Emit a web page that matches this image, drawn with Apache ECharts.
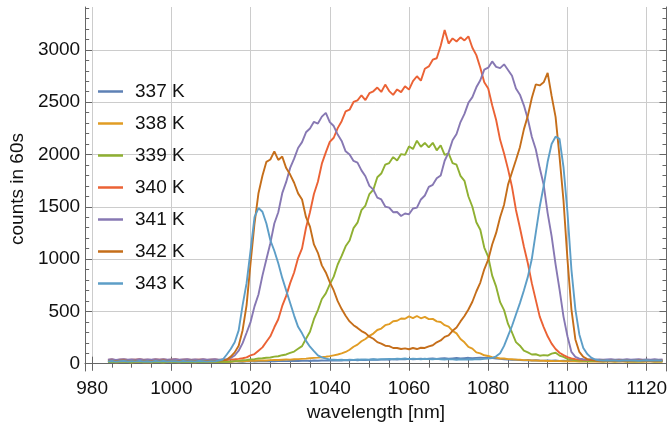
<!DOCTYPE html>
<html>
<head>
<meta charset="utf-8">
<script src="https://cdn.jsdelivr.net/npm/echarts@6/dist/echarts.min.js"></script>
<style>
  html, body { margin: 0; padding: 0; background: #fff; }
  #chart { width: 670px; height: 432px; }
</style>
</head>
<body>
<div id="chart"></div>
<script>
// wavelength grid [nm]
var wavelengths = [
  984, 985, 986, 987, 988, 989, 990, 991, 992, 993,
  994, 995, 996, 997, 998, 999, 1000, 1001, 1002, 1003,
  1004, 1005, 1006, 1007, 1008, 1009, 1010, 1011, 1012, 1013,
  1014, 1015, 1016, 1017, 1018, 1019, 1020, 1021, 1022, 1023,
  1024, 1025, 1026, 1027, 1028, 1029, 1030, 1031, 1032, 1033,
  1034, 1035, 1036, 1037, 1038, 1039, 1040, 1041, 1042, 1043,
  1044, 1045, 1046, 1047, 1048, 1049, 1050, 1051, 1052, 1053,
  1054, 1055, 1056, 1057, 1058, 1059, 1060, 1061, 1062, 1063,
  1064, 1065, 1066, 1067, 1068, 1069, 1070, 1071, 1072, 1073,
  1074, 1075, 1076, 1077, 1078, 1079, 1080, 1081, 1082, 1083,
  1084, 1085, 1086, 1087, 1088, 1089, 1090, 1091, 1092, 1093,
  1094, 1095, 1096, 1097, 1098, 1099, 1100, 1101, 1102, 1103,
  1104, 1105, 1106, 1107, 1108, 1109, 1110, 1111, 1112, 1113,
  1114, 1115, 1116, 1117, 1118, 1119, 1120, 1121, 1122, 1123,
  1124
];

// counts in 60s, one list per temperature
var s337 = [
  20, 18, 22, 19, 21, 17, 20, 22, 18, 21,
  19, 22, 20, 18, 21, 23, 19, 20, 22, 18,
  21, 19, 23, 20, 18, 22, 21, 19, 23, 20,
  22, 20, 24, 21, 19, 23, 25, 21, 22, 24,
  23, 26, 22, 25, 27, 24, 26, 28, 25, 27,
  29, 26, 30, 28, 31, 29, 32, 30, 33, 31,
  34, 32, 36, 33, 38, 35, 37, 40, 36, 39,
  41, 38, 43, 40, 44, 42, 46, 43, 45, 48,
  44, 47, 50, 46, 49, 52, 48, 51, 54, 50,
  53, 56, 52, 55, 58, 54, 57, 53, 50, 46,
  42, 39, 36, 38, 34, 32, 35, 31, 33, 30,
  29, 31, 28, 30, 27, 29, 26, 28, 25, 27,
  26, 24, 27, 25, 23, 26, 24, 25, 27, 23,
  25, 24, 26, 23, 25, 27, 24, 26, 23, 25,
  24
];
var s338 = [
  15, 17, 14, 16, 18, 15, 13, 16, 17, 14,
  16, 14, 17, 15, 13, 16, 18, 15, 14, 17,
  15, 16, 14, 17, 15, 18, 16, 17, 19, 18,
  20, 19, 22, 24, 23, 26, 28, 27, 30, 32,
  31, 34, 36, 35, 38, 40, 39, 42, 44, 46,
  48, 52, 55, 58, 62, 66, 72, 80, 88, 98,
  112, 133, 162, 182, 214, 236, 266, 288, 322, 336,
  368, 378, 406, 410, 432, 430, 452, 436, 456, 434,
  448, 426, 428, 404, 398, 368, 354, 314, 290, 236,
  204, 160, 144, 108, 98, 80, 74, 62, 58, 50,
  49, 44, 43, 39, 38, 34, 34, 30, 31, 28,
  28, 26, 27, 24, 25, 23, 24, 22, 23, 21,
  22, 21, 22, 20, 21, 19, 20, 21, 19, 20,
  20, 19, 21, 18, 20, 19, 21, 20, 18, 20,
  19
];
var s339 = [
  16, 18, 15, 17, 19, 16, 14, 17, 18, 15,
  17, 15, 18, 16, 14, 17, 19, 16, 15, 18,
  16, 17, 15, 18, 16, 19, 17, 18, 16, 19,
  18, 21, 24, 27, 33, 35, 41, 43, 49, 52,
  57, 59, 67, 71, 81, 88, 104, 116, 142, 168,
  238, 306, 425, 512, 618, 672, 758, 832, 948, 1030,
  1122, 1178, 1296, 1348, 1468, 1512, 1622, 1664, 1782, 1818,
  1902, 1918, 1975, 1942, 2004, 1996, 2078, 2052, 2132, 2074,
  2110, 2068, 2112, 2040, 2088, 1996, 2010, 1918, 1902, 1796,
  1748, 1598, 1500, 1352, 1280, 1110, 1020, 842, 736, 588,
  512, 380, 298, 206, 172, 124, 108, 88, 90, 76,
  82, 78, 96, 104, 78, 64, 46, 42, 33, 30,
  27, 25, 26, 24, 25, 23, 24, 26, 23, 24,
  24, 23, 25, 22, 24, 23, 25, 24, 22, 24,
  23
];
var s340 = [
  36, 40, 34, 38, 41, 35, 39, 37, 42, 36,
  38, 35, 40, 37, 41, 36, 39, 42, 35, 38,
  40, 36, 39, 37, 41, 35, 38, 40, 36, 39,
  38, 41, 42, 46, 52, 60, 80, 92, 124, 156,
  210, 262, 348, 425, 552, 648, 770, 872, 1010, 1102,
  1300, 1448, 1622, 1740, 1912, 2020, 2120, 2160, 2252, 2318,
  2412, 2428, 2502, 2518, 2566, 2520, 2586, 2604, 2640, 2598,
  2668, 2606, 2570, 2622, 2596, 2652, 2620, 2702, 2748, 2706,
  2820, 2842, 2906, 2920, 3040, 3190, 3060, 3110, 3080, 3120,
  3090, 3130, 3020, 2950, 2830, 2690, 2630, 2470, 2330, 2140,
  2010, 1860, 1690, 1470, 1300, 1120, 960, 770, 610, 450,
  350, 262, 192, 140, 104, 82, 62, 51, 44, 39,
  36, 34, 37, 33, 35, 32, 36, 34, 33, 35,
  33, 35, 32, 34, 36, 33, 35, 32, 34, 33,
  34
];
var s341 = [
  38, 42, 36, 40, 43, 37, 41, 39, 44, 38,
  40, 37, 42, 39, 43, 38, 41, 44, 37, 40,
  42, 38, 41, 39, 43, 37, 40, 42, 38, 41,
  44, 56, 78, 124, 196, 296, 398, 548, 662, 842,
  998, 1152, 1340, 1448, 1630, 1738, 1872, 1960, 2062, 2118,
  2212, 2248, 2312, 2296, 2362, 2398, 2310, 2272, 2190, 2130,
  2030, 2000, 1938, 1922, 1848, 1792, 1700, 1664, 1588, 1570,
  1502, 1492, 1448, 1450, 1412, 1436, 1428, 1484, 1492, 1570,
  1608, 1690, 1710, 1772, 1800, 1940, 2020, 2136, 2196, 2310,
  2388, 2494, 2548, 2642, 2710, 2812, 2830, 2890, 2838, 2826,
  2862, 2808, 2752, 2630, 2572, 2470, 2340, 2170, 2050, 1870,
  1710, 1440, 1220, 950, 710, 450, 262, 112, 66, 48,
  42, 39, 43, 38, 41, 37, 40, 42, 38, 41,
  39, 42, 37, 40, 43, 38, 41, 39, 42, 38,
  40
];
var s342 = [
  26, 29, 24, 28, 30, 25, 27, 29, 24, 28,
  27, 24, 29, 26, 30, 25, 28, 27, 24, 29,
  26, 28, 25, 29, 27, 24, 28, 26, 29, 32,
  38, 68, 108, 172, 320, 560, 960, 1340, 1630, 1796,
  1930, 1952, 2030, 1948, 1980, 1870, 1808, 1730, 1628, 1570,
  1400, 1310, 1140, 1060, 940, 872, 780, 700, 598, 522,
  458, 404, 368, 342, 312, 292, 258, 238, 206, 192,
  172, 168, 150, 150, 140, 146, 138, 150, 140, 152,
  150, 166, 176, 204, 222, 256, 270, 314, 346, 404,
  456, 518, 592, 690, 776, 902, 994, 1140, 1250, 1400,
  1520, 1712, 1830, 1948, 2070, 2240, 2370, 2540, 2670, 2660,
  2690, 2780, 2560, 2360, 1980, 1560, 1000, 520, 232, 112,
  66, 44, 34, 30, 28, 31, 27, 29, 28, 30,
  28, 30, 27, 29, 31, 28, 30, 27, 29, 28,
  29
];
var s343 = [
  22, 25, 20, 23, 26, 21, 24, 22, 25, 21,
  23, 20, 25, 22, 26, 21, 24, 23, 20, 25,
  22, 24, 21, 25, 23, 20, 24, 22, 30, 40,
  88, 140, 205, 318, 560, 770, 1080, 1400, 1488, 1452,
  1340, 1180, 1080, 960, 820, 700, 580, 460, 352, 290,
  218, 162, 120, 80, 60, 48, 40, 38, 35, 37,
  34, 38, 36, 40, 37, 41, 39, 43, 40, 44,
  42, 46, 43, 47, 45, 49, 44, 48, 46, 43,
  47, 44, 42, 46, 43, 40, 44, 41, 38, 42,
  39, 42, 40, 44, 41, 46, 48, 54, 70, 100,
  170, 265, 360, 470, 579, 700, 830, 1000, 1250, 1500,
  1700, 1930, 2100, 2170, 2150, 1880, 1450, 900, 520, 280,
  150, 92, 58, 40, 33, 30, 32, 29, 31, 28,
  30, 32, 29, 31, 28, 30, 33, 29, 31, 30,
  29
];

var seriesNames = ['337 K', '338 K', '339 K', '340 K', '341 K', '342 K', '343 K'];
var seriesColors = ['#5E81B5', '#E19C24', '#8FB032', '#EB6235', '#8778B3', '#C56E1A', '#5D9EC7'];
var seriesValues = [s337, s338, s339, s340, s341, s342, s343];

var xMajorTicks = [980, 1000, 1020, 1040, 1060, 1080, 1100, 1120];
var xMinorTicks = [985, 990, 995, 1005, 1010, 1015, 1025, 1030, 1035, 1045, 1050, 1055,
  1065, 1070, 1075, 1085, 1090, 1095, 1105, 1110, 1115];
var yMajorTicks = [0, 500, 1000, 1500, 2000, 2500, 3000];
var yMinorTicks = [100, 200, 300, 400, 600, 700, 800, 900, 1100, 1200, 1300, 1400,
  1600, 1700, 1800, 1900, 2100, 2200, 2300, 2400, 2600, 2700, 2800, 2900,
  3100, 3200, 3300, 3400];

var FONT = '"Liberation Sans", Arial, sans-serif';
var FRAME = '#666666';
var GRIDLINE = '#cccccc';
var X_MIN = 978.25, X_MAX = 1125;
var Y_MIN = -70, Y_MAX = 3410;

function frameAxis(pos, min, max, ticks, len, opts) {
  opts = opts || {};
  return Object.assign({
    type: 'value',
    position: pos,
    min: min,
    max: max,
    axisLine: { show: !!opts.line, lineStyle: { color: FRAME, width: 1 } },
    axisTick: { show: true, inside: true, length: len, customValues: ticks,
      lineStyle: { color: FRAME, width: 1 } },
    axisLabel: { show: !!opts.label, customValues: ticks, color: '#111',
      fontFamily: FONT, fontSize: 19, margin: opts.margin || 8,
      formatter: function (v) { return String(v); } },
    splitLine: { show: !!opts.split, lineStyle: { color: GRIDLINE, width: 1 } },
    minorTick: { show: false },
    silent: true
  }, opts.extra || {});
}

var chart = echarts.init(document.getElementById('chart'), null, { renderer: 'canvas' });

var option = {
  animation: false,
  backgroundColor: '#fff',
  grid: { left: 82, right: 2, top: 7, bottom: 61, containLabel: false },
  legend: {
    data: seriesNames,
    orient: 'vertical',
    left: 98,
    top: 82,
    padding: 0,
    itemWidth: 25,
    itemHeight: 14,
    itemGap: 13,
    icon: 'path://M0,0L25,0L25,2.5L0,2.5Z',
    selectedMode: false,
    textStyle: { fontFamily: FONT, fontSize: 19, lineHeight: 18, color: '#111', padding: [0, 0, 0, 7] }
  },
  xAxis: [
    frameAxis('bottom', X_MIN, X_MAX, xMajorTicks, 7, { line: true, label: true, split: true, margin: 8,
      extra: { name: 'wavelength [nm]', nameLocation: 'middle', nameGap: 29,
        nameTextStyle: { fontFamily: FONT, fontSize: 19, color: '#111' } } }),
    frameAxis('bottom', X_MIN, X_MAX, xMinorTicks, 4),
    frameAxis('top', X_MIN, X_MAX, xMajorTicks, 7, { line: true }),
    frameAxis('top', X_MIN, X_MAX, xMinorTicks, 4)
  ],
  yAxis: [
    frameAxis('left', Y_MIN, Y_MAX, yMajorTicks, 7, { line: true, label: true, split: true, margin: 5,
      extra: { name: 'counts in 60s', nameLocation: 'middle', nameGap: 57,
        nameTextStyle: { fontFamily: FONT, fontSize: 19, color: '#111' } } }),
    frameAxis('left', Y_MIN, Y_MAX, yMinorTicks, 4),
    frameAxis('right', Y_MIN, Y_MAX, yMajorTicks, 7, { line: true }),
    frameAxis('right', Y_MIN, Y_MAX, yMinorTicks, 4)
  ],
  series: seriesNames.map(function (name, k) {
    return {
      name: name,
      type: 'line',
      xAxisIndex: 0,
      yAxisIndex: 0,
      symbol: 'none',
      color: seriesColors[k],
      lineStyle: { color: seriesColors[k], width: 1.9 },
      emphasis: { disabled: true },
      silent: true,
      data: wavelengths.map(function (w, i) { return [w, seriesValues[k][i]]; })
    };
  })
};

chart.setOption(option);
</script>
</body>
</html>
